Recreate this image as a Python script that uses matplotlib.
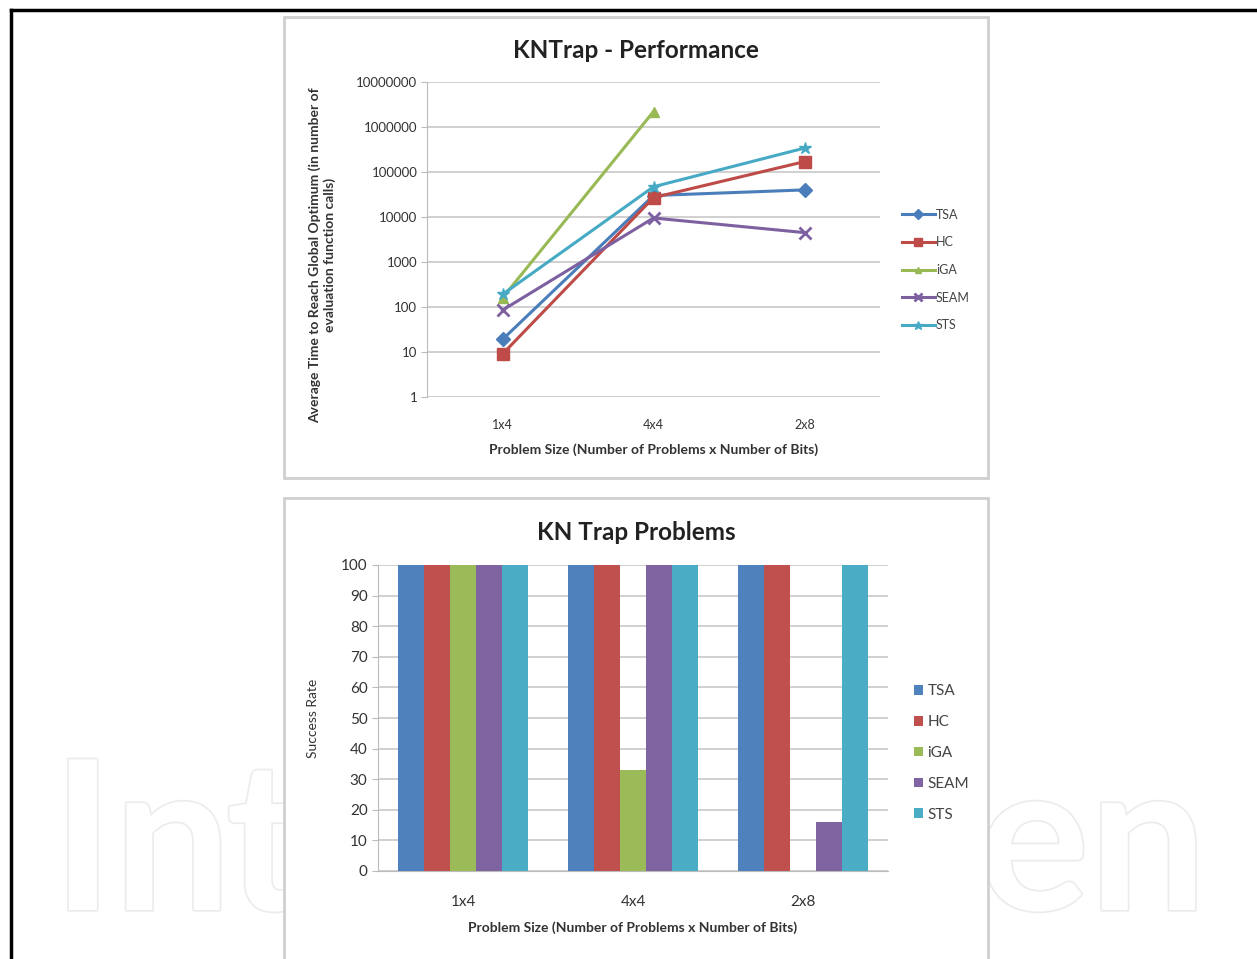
import numpy as np
import matplotlib.pyplot as plt
from matplotlib.patches import Rectangle
from matplotlib.lines import Line2D
import matplotlib.patheffects as pe

plt.rcParams['font.family'] = ['Lato', 'DejaVu Sans']

# data
sizes = ['1x4', '4x4', '2x8']
algos = ['TSA', 'HC', 'iGA', 'SEAM', 'STS']
tsa_time = [19, 30000, 40000]
hc_time = [9, 27000, 170000]
iga_time = [160, 2200000, np.nan]
seam_time = [85, 9500, 4500]
sts_time = [190, 47000, 340000]

tsa_rate = [100, 100, 100]
hc_rate = [100, 100, 100]
iga_rate = [100, 33, 0]
seam_rate = [100, 100, 16]
sts_rate = [100, 100, 100]

line_cols = ['#4A7EBB', '#BE4B48', '#98B954', '#7D60A0', '#46AAC5']
bar_cols = ['#4F81BD', '#C0504D', '#9BBB59', '#8064A2', '#4BACC6']
markers = ['D', 's', '^', 'x', '*']

W, H = 1257, 959
fig = plt.figure(figsize=(W/100, H/100), dpi=100)

def fx(x): return x/W
def fy(y): return 1 - y/H

# watermark (the middle of the word sits behind the lower panel)
wm = dict(fontsize=150, fontweight='bold', color='white', zorder=0, va='baseline', ha='left',
          path_effects=[pe.withStroke(linewidth=2.5, foreground='#ececec')])
fig.text(fx(52), fy(910), 'In', **wm)
fig.text(fx(226), fy(910), 't', **wm)
fig.text(fx(978), fy(910), 'en', **wm)

# outer frame
fig.add_artist(Line2D([fx(11), fx(11)], [fy(10), 0], color='black', lw=2.5))
fig.add_artist(Line2D([fx(11), 1], [fy(10), fy(10)], color='black', lw=2.5))

# panel boxes
for top, bot in [(17, 478), (498, 965)]:
    fig.add_artist(Rectangle((fx(284), fy(bot)), fx(988) - fx(284), fy(top) - fy(bot),
                             transform=fig.transFigure, facecolor='white',
                             edgecolor='#cfcfcf', lw=2, zorder=1))

# ---- top: performance (log scale)
ax1 = fig.add_axes([fx(427), fy(397), fx(880) - fx(427), fy(82) - fy(397)], zorder=2)
x = np.arange(len(sizes))
series = [tsa_time, hc_time, iga_time, seam_time, sts_time]
for vals, c, m, name in zip(series, line_cols, markers, algos):
    ms = 9 if m in ('s', 'x', '*') else 7
    ax1.plot(x, vals, color=c, marker=m, ms=ms, lw=2.2, mew=2 if m == 'x' else 1,
             label=name)
ax1.set_yscale('log')
ax1.set_ylim(1, 1e7)
ax1.set_xlim(-0.5, 2.5)
ax1.set_yticks([10**i for i in range(8)])
ax1.set_yticklabels([str(10**i) for i in range(8)], fontsize=9.5, color='#333333')
ax1.yaxis.set_minor_locator(plt.NullLocator())
ax1.set_xticks(x)
ax1.set_xticklabels(sizes, fontsize=9, color='#333333')
ax1.tick_params(axis='x', length=0, pad=16)
ax1.tick_params(axis='y', length=4, color='#bbbbbb', pad=3)
ax1.grid(axis='y', color='#c8c8c8', lw=1.2)
for s in ['top', 'right', 'bottom']:
    ax1.spines[s].set_visible(False)
ax1.spines['left'].set_color('#bbbbbb')
ax1.set_title('KNTrap - Performance', fontsize=17.5, fontweight='bold', color='#222222',
              pad=17, x=(636 - 427) / 453)
ax1.set_xlabel('Problem Size (Number of Problems x Number of Bits)', fontsize=10,
               fontweight='bold', color='#333333', labelpad=9)
ax1.set_ylabel('Average Time to Reach Global Optimum (in number of\nevaluation function calls)',
               fontsize=10, fontweight='bold', color='#333333')
ax1.yaxis.set_label_coords((336 - 427) / 453, (397 - 255) / 315)
ax1.legend(loc='center left', bbox_to_anchor=(fx(891), fy(270)), bbox_transform=fig.transFigure,
           frameon=False, fontsize=9, labelspacing=1.25, handlelength=2.6, handletextpad=0.1,
           labelcolor='#444444', markerscale=0.7)

# ---- bottom: success rate bars
ax2 = fig.add_axes([fx(378), fy(871), fx(888) - fx(378), fy(565) - fy(871)], zorder=2)
rates = [tsa_rate, hc_rate, iga_rate, seam_rate, sts_rate]
bw = 0.153
for i, (vals, c, name) in enumerate(zip(rates, bar_cols, algos)):
    ax2.bar(x + (i - 2) * bw, vals, bw, color=c, label=name, zorder=3)
ax2.set_xlim(-0.5, 2.5)
ax2.set_ylim(0, 100)
ax2.set_yticks(range(0, 101, 10))
ax2.tick_params(axis='y', labelsize=11, colors='#333333', length=4)
ax2.tick_params(axis='y', color='#bbbbbb')
ax2.set_xticks(x)
ax2.set_xticklabels(sizes, fontsize=11, color='#333333')
ax2.tick_params(axis='x', length=0, pad=17)
ax2.grid(axis='y', color='#c8c8c8', lw=1.2, zorder=0)
for s in ['top', 'right']:
    ax2.spines[s].set_visible(False)
ax2.spines['left'].set_color('#bbbbbb')
ax2.spines['bottom'].set_color('#bbbbbb')
ax2.set_title('KN Trap Problems', fontsize=17.5, fontweight='bold', color='#222222',
              pad=18, x=(636 - 378) / 510)
ax2.set_xlabel('Problem Size (Number of Problems x Number of Bits)', fontsize=10,
               fontweight='bold', color='#333333', labelpad=9)
ax2.set_ylabel('Success Rate', fontsize=10, color='#333333', labelpad=16)
ax2.legend(loc='center left', bbox_to_anchor=(fx(900), fy(753)), bbox_transform=fig.transFigure,
           frameon=False, fontsize=11, labelspacing=1.1, handlelength=0.6, handleheight=0.6,
           handletextpad=0.3, labelcolor='#444444')

fig.savefig('out.png', dpi=100, facecolor='white')
